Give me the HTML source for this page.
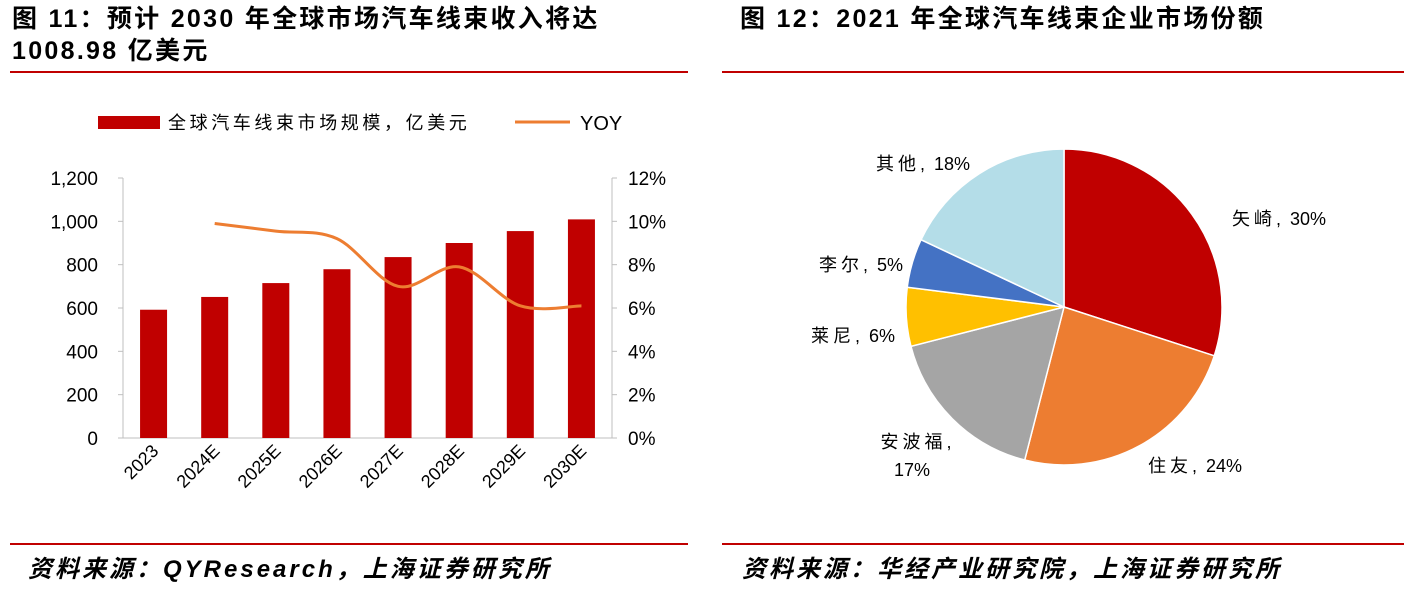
<!DOCTYPE html>
<html><head><meta charset="utf-8"><style>
body{margin:0;background:#fff;width:1417px;height:592px;overflow:hidden;font-family:"Liberation Sans","Noto Sans CJK SC",sans-serif}
.t{position:absolute;font-weight:bold;font-size:25px;letter-spacing:2.3px;color:#000;line-height:32px;white-space:nowrap}
.f{position:absolute;font-weight:bold;font-style:italic;font-size:24px;letter-spacing:3px;color:#000;white-space:nowrap}
.hr{position:absolute;height:2px;background:#c00000}
</style></head><body>
<div class="t" style="left:12px;top:3px">图 11：预计 2030 年全球市场汽车线束收入将达<br>1008.98 亿美元</div>
<div class="t" style="left:740px;top:3px">图 12：2021 年全球汽车线束企业市场份额</div>
<div class="hr" style="left:10px;top:71px;width:678px"></div>
<div class="hr" style="left:722px;top:71px;width:682px"></div>
<div class="hr" style="left:10px;top:543px;width:678px"></div>
<div class="hr" style="left:722px;top:543px;width:682px"></div>
<div class="f" style="left:28px;top:549px">资料来源：QYResearch，上海证券研究所</div>
<div class="f" style="left:742px;top:549px">资料来源：华经产业研究院，上海证券研究所</div>
<svg id="c" width="1417" height="592" style="position:absolute;left:0;top:0" font-family="Liberation Sans, Noto Sans CJK SC, sans-serif"></svg>
<script>
const categories=["2023","2024E","2025E","2026E","2027E","2028E","2029E","2030E"];
const revenue=[592,651,715,779,835,900,955,1009];
const yoy=[null,9.9,9.55,9.2,7.0,7.9,6.1,6.1];
const leftTicks=["0","200","400","600","800","1,000","1,200"];
const rightTicks=["0%","2%","4%","6%","8%","10%","12%"];
const pieLabels=["矢崎","住友","安波福","莱尼","李尔","其他"];
const pieValues=[30,24,17,6,5,18];
const pieColors=["#c00000","#ed7d31","#a5a5a5","#ffc000","#4472c4","#b4dde8"];
const svg=document.getElementById('c');const NS="http://www.w3.org/2000/svg";
function mk(t,a,p){const e=document.createElementNS(NS,t);for(const k in a)e.setAttribute(k,a[k]);(p||svg).appendChild(e);return e;}
const x0=123,x1=612,yb=438,yt=178;
const bw=(x1-x0)/categories.length;
const yL=v=>yb-(v/1200)*(yb-yt), yR=v=>yb-(v/12)*(yb-yt), xc=i=>x0+bw*(i+0.5);
let ax=mk('line',{x1:x0,y1:yt,x2:x0,y2:yb,stroke:'#bfbfbf'});

ax=mk('line',{x1:x1,y1:yt,x2:x1,y2:yb,stroke:'#bfbfbf'});

ax=mk('line',{x1:x0,y1:yb,x2:x1,y2:yb,stroke:'#bfbfbf'});

leftTicks.forEach((t,i)=>{const y=yL(i*200);
 mk('line',{x1:x0-5,y1:y,x2:x0,y2:y,stroke:'#bfbfbf'});
 const e=mk('text',{x:x0-25,y:y+7,'text-anchor':'end','font-size':19,fill:'#000'});e.textContent=t;
 });
rightTicks.forEach((t,i)=>{const y=yR(i*2);
 mk('line',{x1:x1,y1:y,x2:x1+5,y2:y,stroke:'#bfbfbf'});
 const e=mk('text',{x:x1+16,y:y+7,'font-size':19,fill:'#000'});e.textContent=t;
 });
categories.forEach((c,i)=>{
 const b=mk('rect',{x:xc(i)-13.5,y:yL(revenue[i]),width:27,height:yb-yL(revenue[i]),fill:'#c00000'});
 
 const t=mk('text',{x:0,y:0,'font-size':18,fill:'#000','text-anchor':'end',transform:`translate(${xc(i)+6},${yb+14}) rotate(-45)`});t.textContent=c;
 });
const pts=[];yoy.forEach((v,i)=>{if(v!=null)pts.push([xc(i),yR(v)]);});
let d=`M${pts[0][0]},${pts[0][1]}`;
for(let i=0;i<pts.length-1;i++){const p0=pts[i-1]||pts[i],p1=pts[i],p2=pts[i+1],p3=pts[i+2]||p2;
 d+=` C${p1[0]+(p2[0]-p0[0])/6},${p1[1]+(p2[1]-p0[1])/6} ${p2[0]-(p3[0]-p1[0])/6},${p2[1]-(p3[1]-p1[1])/6} ${p2[0]},${p2[1]}`;}
const ln=mk('path',{d:d,fill:'none',stroke:'#ed7d31','stroke-width':3});

let g=mk('g',{});
mk('rect',{x:98,y:116,width:62,height:13,fill:'#c00000'},g);
let tx=mk('text',{x:168,y:129,'font-size':18,'letter-spacing':3.6,fill:'#000'},g);tx.textContent='全球汽车线束市场规模，亿美元';
g=mk('g',{});
mk('line',{x1:515,y1:122,x2:570,y2:122,stroke:'#ed7d31','stroke-width':3},g);
tx=mk('text',{x:580,y:130,'font-size':20,fill:'#000'},g);tx.textContent='YOY';
const cx=1064,cy=307,r=158;const tot=pieValues.reduce((a,b)=>a+b,0);
const lp=[[1232,225,'start'],[1148,472,'start'],[918,448,'middle'],[895,342,'end'],[903,271,'end'],[970,170,'end']];
let a=-Math.PI/2;
pieValues.forEach((v,i)=>{const a2=a+v/tot*2*Math.PI;
 const p=mk('path',{d:`M${cx},${cy} L${cx+r*Math.cos(a)},${cy+r*Math.sin(a)} A${r},${r} 0 ${a2-a>Math.PI?1:0} 1 ${cx+r*Math.cos(a2)},${cy+r*Math.sin(a2)} Z`,fill:pieColors[i],stroke:'#fff','stroke-width':1.5});
 
 const L=lp[i];const t=mk('text',{x:L[0],y:L[1],'font-size':18,fill:'#000','text-anchor':L[2]});
 if(i===2){t.innerHTML=`<tspan x="${L[0]}" letter-spacing="4">${pieLabels[i]},</tspan><tspan x="${L[0]-6}" dy="28">${v}%</tspan>`;}
 else t.innerHTML=`<tspan letter-spacing="4">${pieLabels[i]},</tspan> ${v}%`;
 
 a=a2;});
</script>
</body></html>
